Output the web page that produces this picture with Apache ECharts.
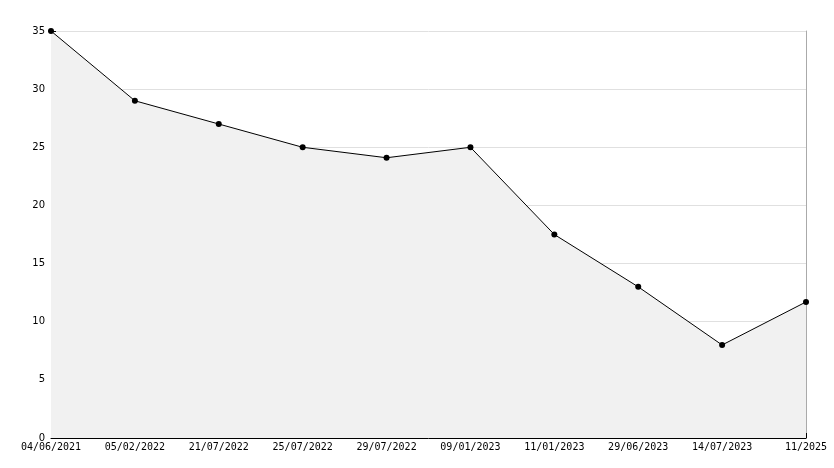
<!DOCTYPE html>
<html><head><meta charset="utf-8">
<script src="https://cdn.jsdelivr.net/npm/echarts@6/dist/echarts.min.js"></script>
<style>html,body{margin:0;background:#fff}#c{width:834px;height:468px}</style>
</head><body><div id="c"></div>
<script>
var dates = ['04/06/2021','05/02/2022','21/07/2022','25/07/2022','29/07/2022','09/01/2023','11/01/2023','29/06/2023','14/07/2023','11/2025'];
var values = [35, 29, 27, 25, 24.1, 25, 17.5, 13, 8, 11.7];

var chart = echarts.init(document.getElementById('c'));
chart.setOption({
    animation: false,
    grid: { left: 51, right: 28, top: 31, bottom: 30 },
    xAxis: {
        type: 'category', boundaryGap: false, data: dates,
        axisLine: { lineStyle: { color: '#000' } },
        axisTick: { inside: true, length: 5, lineStyle: { color: '#000' } },
        axisLabel: { color: '#000', fontFamily: 'DejaVu Sans Mono', fontSize: 10, margin: 4, showMinLabel: true, showMaxLabel: true, interval: 0 }
    },
    yAxis: [{
        type: 'value', min: 0, max: 35, interval: 5,
        axisLine: { show: true, lineStyle: { color: '#000' } },
        axisTick: { show: true, inside: true, length: 5, lineStyle: { color: '#000' } },
        minorTick: { show: true, splitNumber: 5, length: 5, lineStyle: { color: '#000' } },
        splitLine: { lineStyle: { color: '#e0e0e0' } },
        axisLabel: { color: '#000', fontFamily: 'DejaVu Sans', fontSize: 10, margin: 6 }
    }, {
        type: 'value', min: 0, max: 35, interval: 5, position: 'right',
        axisLine: { show: true, lineStyle: { color: '#aaa' } },
        axisTick: { show: false }, axisLabel: { show: false }, splitLine: { show: false }
    }],
    series: [{
        type: 'line', data: values,
        symbol: 'circle', symbolSize: 6,
        itemStyle: { color: '#000' },
        lineStyle: { color: '#000', width: 1 },
        areaStyle: { color: '#f1f1f1', opacity: 1 }
    }]
});
</script></body></html>
